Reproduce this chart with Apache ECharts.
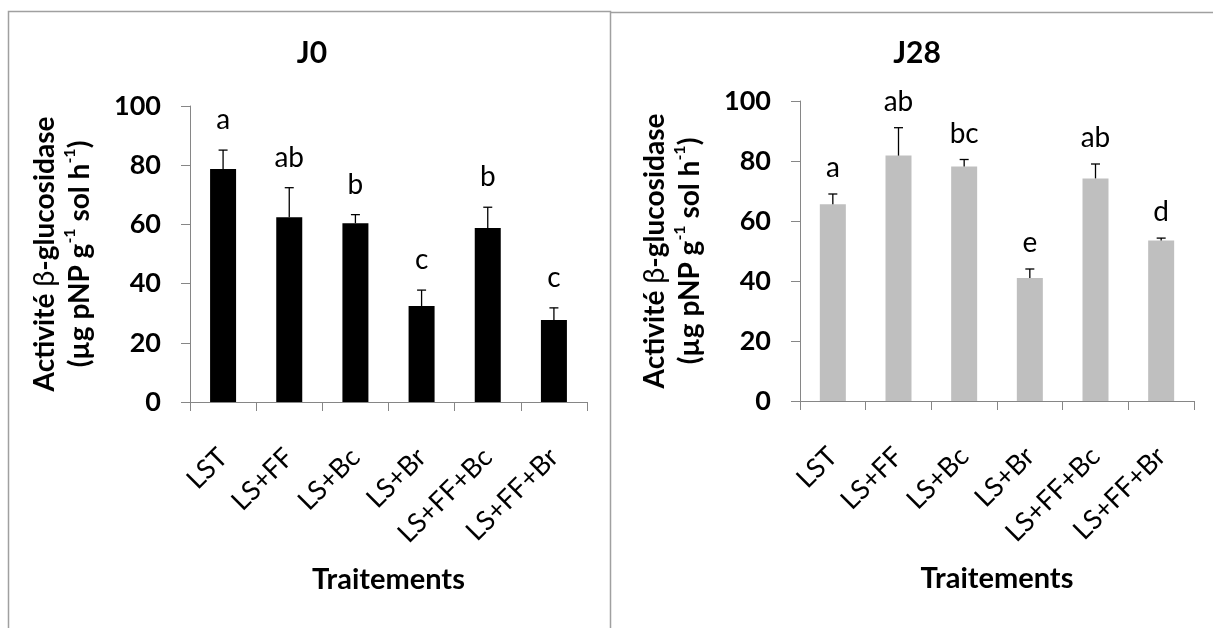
<!DOCTYPE html>
<html>
<head>
<meta charset="utf-8">
<script src="https://cdn.jsdelivr.net/npm/echarts@6/dist/echarts.min.js"></script>
<style>
  html, body { margin: 0; padding: 0; background: #fff; }
  #chart { width: 1213px; height: 628px; }
</style>
</head>
<body>
<div id="chart"></div>
<script>
const categories = ['LST', 'LS+FF', 'LS+Bc', 'LS+Br', 'LS+FF+Bc', 'LS+FF+Br']
const yTicks = [0, 20, 40, 60, 80, 100]

// J0
const j0Mean = [78.7, 62.4, 60.4, 32.4, 58.8, 27.7]
const j0Err = [6.4, 10.0, 2.9, 5.4, 7.0, 4.1]
const j0Letters = ['a', 'ab', 'b', 'c', 'b', 'c']

// J28
const j28Mean = [65.6, 81.8, 78.2, 41.0, 74.2, 53.5]
const j28Err = [3.4, 9.3, 2.3, 3.0, 4.8, 0.8]
const j28Letters = ['a', 'ab', 'bc', 'e', 'ab', 'd']

const FONT = 'Lato'
const axisGray = '#868686'
const yName = '{b|Activité }{g|β}{b|-glucosidase}\n{b|(µg pNP g}{s|-1}{b| sol h}{s|-1}{b|)}'

function xAxisOf(gridIndex) {
  return {
    type: 'category',
    gridIndex: gridIndex,
    data: categories,
    axisLine: { lineStyle: { color: axisGray, width: 1 } },
    axisTick: { show: true, length: 9, lineStyle: { color: axisGray } },
    axisLabel: {
      rotate: 45,
      margin: 51,
      interval: 0,
      color: '#000',
      fontFamily: FONT,
      fontSize: 27
    },
    name: 'Traitements',
    nameLocation: 'middle',
    nameGap: 163,
    nameTextStyle: { fontFamily: FONT, fontSize: 29, fontWeight: 'bold', color: '#000' }
  }
}

function yAxisOf(gridIndex) {
  return {
    type: 'value',
    gridIndex: gridIndex,
    min: yTicks[0],
    max: yTicks[yTicks.length - 1],
    interval: 20,
    splitLine: { show: false },
    axisLine: { show: true, lineStyle: { color: axisGray, width: 1 } },
    axisTick: { show: true, length: 9, lineStyle: { color: axisGray } },
    axisLabel: { margin: 29, color: '#000', fontFamily: FONT, fontSize: 27, fontWeight: 'bold' },
    name: yName,
    nameLocation: 'middle',
    nameRotate: 90,
    nameGap: 93,
    nameTextStyle: {
      color: '#000',
      fontFamily: FONT,
      fontSize: 28,
      fontWeight: 'bold',
      lineHeight: 35,
      rich: {
        b: { fontFamily: FONT, fontSize: 28, fontWeight: 'bold', lineHeight: 35, color: '#000' },
        g: { fontFamily: FONT, fontSize: 29, fontWeight: 'normal', lineHeight: 35, color: '#000' },
        s: { fontFamily: FONT, fontSize: 16, fontWeight: 'bold', lineHeight: 35, color: '#000', verticalAlign: 'top' }
      }
    }
  }
}

function barSeries(idx, values, color) {
  return {
    type: 'bar',
    xAxisIndex: idx,
    yAxisIndex: idx,
    data: values,
    barWidth: 26,
    itemStyle: { color: color },
    silent: true
  }
}

// barres d'erreur + lettres
function errSeries(idx, means, errs, letters, dist) {
  return {
    type: 'custom',
    xAxisIndex: idx,
    yAxisIndex: idx,
    z: 10,
    silent: true,
    data: means.map((m, i) => [i, m, m + errs[i]]),
    renderItem: (params, api) => {
      const base = api.coord([api.value(0), api.value(1)])
      const top = api.coord([api.value(0), api.value(2)])
      const cap = 4.5
      return {
        type: 'group',
        children: [
          { type: 'line', shape: { x1: top[0], y1: base[1], x2: top[0], y2: top[1] }, style: { stroke: '#000', lineWidth: 1.3 } },
          { type: 'line', shape: { x1: top[0] - cap, y1: top[1], x2: top[0] + cap, y2: top[1] }, style: { stroke: '#000', lineWidth: 1.3 } },
          {
            type: 'text',
            x: top[0],
            y: top[1] - dist,
            style: {
              text: letters[params.dataIndex],
              fontFamily: FONT,
              fontSize: 28,
              fill: '#000',
              align: 'center',
              verticalAlign: 'bottom'
            }
          }
        ]
      }
    }
  }
}

const chart = echarts.init(document.getElementById('chart'))
const option = {
  backgroundColor: '#fff',
  animation: false,
  title: [
    { text: 'J0', left: 307, top: 33, textAlign: 'center', textStyle: { fontFamily: FONT, fontSize: 30, fontWeight: 'bold', color: '#000' } },
    { text: 'J28', left: 912, top: 33, textAlign: 'center', textStyle: { fontFamily: FONT, fontSize: 30, fontWeight: 'bold', color: '#000' } }
  ],
  grid: [
    { left: 190, top: 106, width: 397, height: 296 },
    { left: 800, top: 101, width: 394, height: 300 }
  ],
  xAxis: [xAxisOf(0), xAxisOf(1)],
  yAxis: [yAxisOf(0), yAxisOf(1)],
  series: [
    barSeries(0, j0Mean, '#000'),
    errSeries(0, j0Mean, j0Err, j0Letters, 16),
    barSeries(1, j28Mean, '#bfbfbf'),
    errSeries(1, j28Mean, j28Err, j28Letters, 12)
  ],
  graphic: [
    { type: 'polyline', silent: true, shape: { points: [[8.5, 640], [8.5, 11.5], [610.5, 11.5], [610.5, 640]] }, style: { stroke: '#a0a0a0', lineWidth: 1.5, fill: null } },
    { type: 'line', silent: true, shape: { x1: 610, y1: 12.5, x2: 1213, y2: 12.5 }, style: { stroke: '#a0a0a0', lineWidth: 1.5 } }
  ]
}
chart.setOption(option)
</script>
</body>
</html>
